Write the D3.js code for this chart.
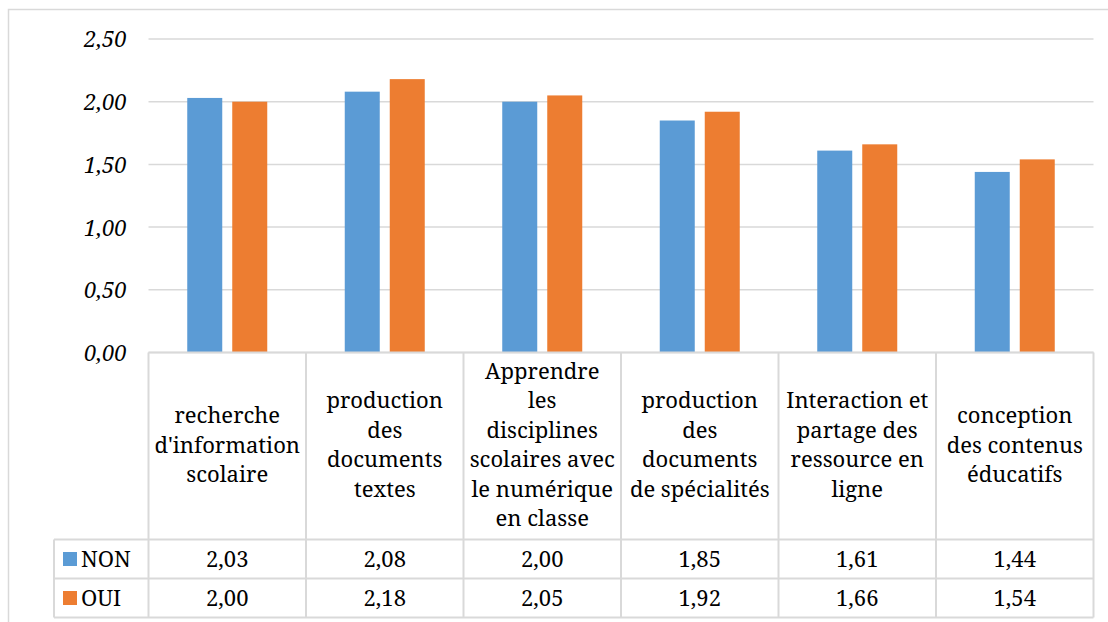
<!DOCTYPE html>
<html><head><meta charset="utf-8">
<script src="https://cdn.jsdelivr.net/npm/d3@7"></script>
<style>body{margin:0;background:#fff}svg{display:block}</style>
</head><body>
<script>
const categories = [
  ["recherche","d'information","scolaire"],
  ["production","des","documents","textes"],
  ["Apprendre","les","disciplines","scolaires avec","le numérique","en classe"],
  ["production","des","documents","de spécialités"],
  ["Interaction et","partage des","ressource en","ligne"],
  ["conception","des contenus","éducatifs"]
];
const seriesNames = ["NON","OUI"];
const nonValues = [2.03,2.08,2.00,1.85,1.61,1.44];
const ouiValues = [2.00,2.18,2.05,1.92,1.66,1.54];
const yTicks = [0,0.5,1,1.5,2,2.5];
const colors = ["#5B9BD5","#ED7D31"];
const series = [nonValues, ouiValues];

const W=1108,H=622;
const svg=d3.select("body").append("svg").attr("width",W).attr("height",H);
const font='"Noto Serif", "DejaVu Serif"';
const fs="22px";
const gridC="#D9D9D9";
const L=148.5,R=1093.5,T=39,B=352.5;
const fmt=v=>v.toFixed(2).replace(".",",");

// outer border
svg.append("path").attr("d",`M8.5,${H+2}V9.5H${W+2}`).attr("fill","none").attr("stroke",gridC).attr("stroke-width",1.5);

const x=d3.scaleBand().domain(d3.range(categories.length)).range([L,R]);
const y=d3.scaleLinear().domain([0,2.5]).range([B,T]);

// gridlines
svg.append("g").selectAll("line").data(yTicks).join("line")
  .attr("x1",L).attr("x2",R).attr("y1",d=>y(d)).attr("y2",d=>y(d))
  .attr("stroke",gridC).attr("stroke-width",1.5);

// y axis labels
const yAxis=d3.axisLeft(y).tickValues(yTicks).tickFormat(fmt).tickSize(0).tickPadding(22);
const ga=svg.append("g").attr("transform",`translate(${L},0)`).call(yAxis);
ga.select(".domain").remove();
ga.attr("font-family",null).attr("font-size",null);
ga.selectAll("text").style("font-family",font).style("font-style","italic").style("font-size",fs).attr("fill","#000").attr("dy","0.36em");

// bars
const bw=35,gap=10;
series.forEach((vals,si)=>{
  svg.append("g").selectAll("rect").data(vals).join("rect")
    .attr("x",(d,i)=>x(i)+x.bandwidth()/2-(bw+gap/2)+si*(bw+gap))
    .attr("width",bw)
    .attr("y",d=>y(d)).attr("height",d=>y(0)-y(d))
    .attr("fill",colors[si]);
});

// table
const rowTop=[B,539.5,578.5,617.5];
const legL=54;
const tg=svg.append("g").attr("stroke",gridC).attr("stroke-width",2).attr("fill","none");
tg.append("line").attr("x1",L).attr("x2",R).attr("y1",B).attr("y2",B);
[rowTop[1],rowTop[2],rowTop[3]].forEach(yy=>tg.append("line").attr("x1",legL).attr("x2",R).attr("y1",yy).attr("y2",yy));
d3.range(categories.length+1).forEach(i=>{
  const xx=i<categories.length?x(i):R;
  tg.append("line").attr("x1",xx).attr("x2",xx).attr("y1",B).attr("y2",rowTop[3]);
});
tg.append("line").attr("x1",legL).attr("x2",legL).attr("y1",rowTop[1]).attr("y2",rowTop[3]);

// category labels
const lh=29.5, cy=(rowTop[0]+rowTop[1])/2;
categories.forEach((lines,i)=>{
  const t=svg.append("text").style("font-family",font).style("font-size",fs).attr("fill","#000")
    .attr("text-anchor","middle");
  lines.forEach((ln,j)=>{
    t.append("tspan").attr("x",x(i)+x.bandwidth()/2)
      .attr("y",cy+(j-(lines.length-1)/2)*lh).attr("dy","0.3em").text(ln);
  });
});

// value rows
series.forEach((vals,si)=>{
  const ry=(rowTop[si+1]+rowTop[si+2])/2;
  svg.append("rect").attr("x",63).attr("y",ry-7).attr("width",14).attr("height",14).attr("fill",colors[si]);
  svg.append("text").attr("x",81).attr("y",ry).attr("dy","0.36em").style("font-family",font).style("font-size",fs).text(seriesNames[si]);
  svg.append("g").selectAll("text").data(vals).join("text")
    .attr("x",(d,i)=>x(i)+x.bandwidth()/2).attr("y",ry).attr("dy","0.36em")
    .attr("text-anchor","middle").style("font-family",font).style("font-size",fs).text(fmt);
});
</script>
</body></html>
